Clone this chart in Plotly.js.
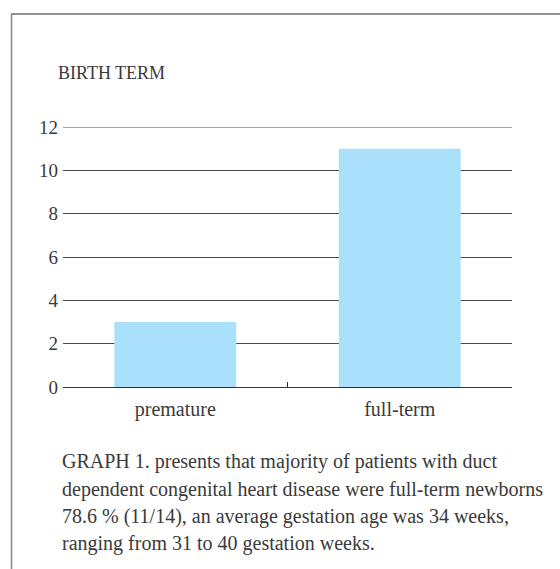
<!DOCTYPE html>
<html>
<head>
<meta charset="utf-8">
<script src="https://cdn.plot.ly/plotly-3.0.1.min.js"></script>
<style>html,body{margin:0;padding:0;background:#fff;}#chart{width:560px;height:569px;}</style>
</head>
<body>
<div id="chart"></div>
<script>
const categories = ["premature", "full-term"];
const counts = [3, 11];
const yTicks = [0, 2, 4, 6, 8, 10, 12];
const yMax = 12;
const chartTitle = "BIRTH TERM";
const captionLines = [
  "GRAPH 1. presents that majority of patients with duct",
  "dependent congenital heart disease were full-term newborns",
  "78.6 % (11/14), an average gestation age was 34 weeks,",
  "ranging from 31 to 40 gestation weeks."
];

const W = 560, H = 569;
const L = 63, R = 48, T = 127, B = 182;
const pw = W - L - R, ph = H - T - B;
const px = x => (x - L) / pw;
const py = y => (H - B - y) / ph;
const serif = "Liberation Serif";
const txt = "#3a3a3a";

const annotations = [{
  text: chartTitle, xref: "paper", yref: "paper",
  x: px(56), y: py(73), xanchor: "left", yanchor: "middle",
  showarrow: false, font: {family: serif, size: 18, color: txt}
}];
const lineY = [462, 489, 516, 543];
captionLines.forEach((s, i) => annotations.push({
  text: s, xref: "paper", yref: "paper",
  x: px(60), y: py(lineY[i]), xanchor: "left", yanchor: "middle",
  showarrow: false, font: {family: serif, size: 20, color: txt}
}));

const shapes = [
  {type: "line", xref: "paper", yref: "paper", x0: px(11), x1: px(560), y0: py(14), y1: py(14),
   line: {color: "#222", width: 1.2}},
  {type: "line", xref: "paper", yref: "paper", x0: px(11.5), x1: px(11.5), y0: py(14), y1: py(569),
   line: {color: "#8a8a8a", width: 1.6}},
  {type: "line", xref: "paper", yref: "y", x0: 0, x1: 1, y0: yMax, y1: yMax,
   line: {color: "#4a4a4a", width: 1}, layer: "below"}
];

Plotly.newPlot("chart", [{
  type: "bar", x: categories, y: counts,
  marker: {color: "#aae0fa", line: {width: 0}},
  hoverinfo: "none"
}], {
  width: W, height: H,
  margin: {l: L, r: R, t: T, b: B, pad: 0},
  paper_bgcolor: "#fff", plot_bgcolor: "#fff",
  bargap: 0.457,
  showlegend: false,
  xaxis: {
    type: "category", showgrid: false, showline: true, linecolor: "#333", linewidth: 1,
    ticks: "inside", tickson: "boundaries", ticklen: 5, tickcolor: "#333", tickwidth: 1,
    tickfont: {family: serif, size: 20, color: txt}, ticklabelstandoff: 4,
    zeroline: false, fixedrange: true
  },
  yaxis: {
    range: [0, yMax], tickvals: yTicks, showgrid: true, gridcolor: "#4a4a4a", gridwidth: 1,
    showline: false, zeroline: false, ticks: "",
    tickfont: {family: serif, size: 19, color: txt}, ticklabelstandoff: 4, fixedrange: true
  },
  annotations: annotations,
  shapes: shapes
}, {displayModeBar: false, staticPlot: true});
</script>
</body>
</html>
